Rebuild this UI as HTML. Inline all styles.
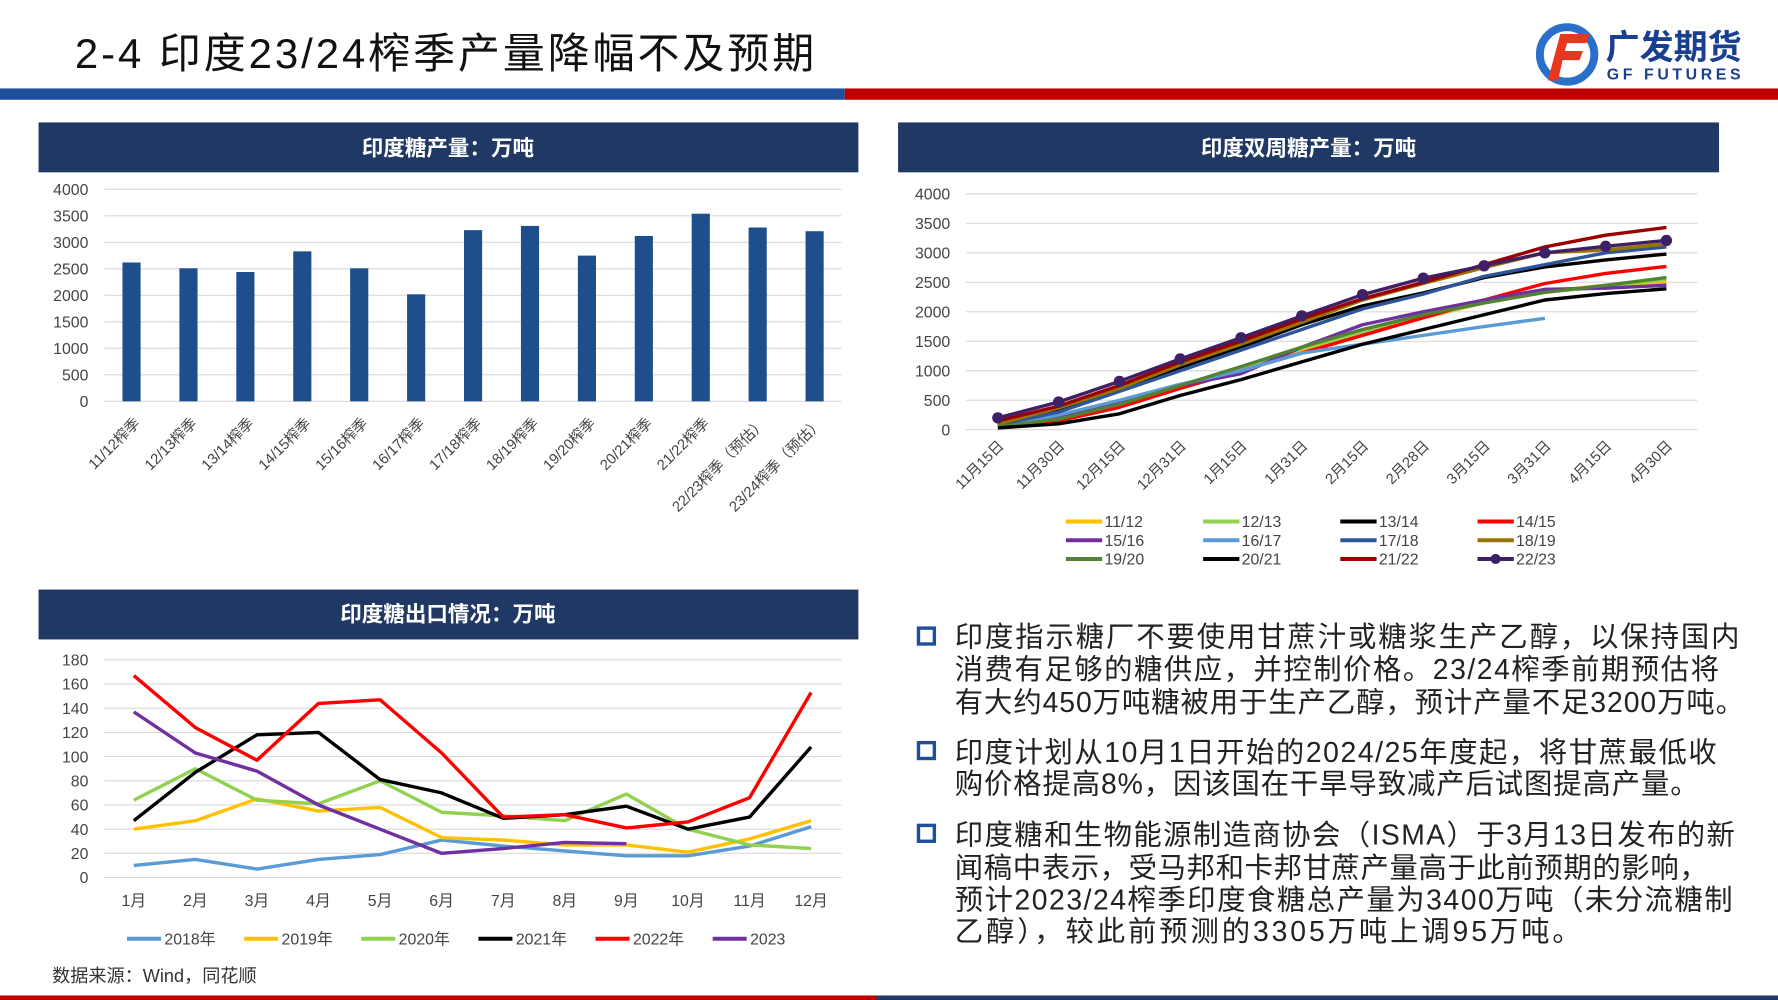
<!DOCTYPE html>
<html><head><meta charset="utf-8"><style>
html,body{margin:0;padding:0;background:#fff;width:1778px;height:1000px;overflow:hidden}
svg{display:block}
text{font-family:"Liberation Sans","Noto Sans CJK SC",sans-serif}
</style></head><body>
<svg id="s" width="1778" height="1000" viewBox="0 0 1568 882" preserveAspectRatio="none" xmlns="http://www.w3.org/2000/svg">
<text x="66" y="60" font-size="37" fill="#111" textLength="652">2-4 印度23/24榨季产量降幅不及预期</text>
<rect x="0" y="78" width="745" height="10" fill="#1f4e9b"/>
<rect x="745" y="78" width="823" height="10" fill="#c00000"/>
<rect x="1350" y="0" width="200" height="77" fill="#fff"/>
<circle cx="1382" cy="48" r="24" fill="none" stroke="#2a6fc9" stroke-width="7"/>
<path d="M1376 30 h26 l-3 8 h-17 l-2 7 h16 l-3 8 h-15 l-4 18 h-9 z" fill="#e8361f"/>
<text x="1416" y="52" font-size="30" font-weight="bold" fill="#1a3f8f">广发期货</text>
<text x="1417" y="70" font-size="14" font-weight="bold" fill="#1a3f8f" textLength="118">GF FUTURES</text>
<rect x="0" y="878" width="773" height="4" fill="#c00000"/>
<rect x="773" y="878" width="795" height="4" fill="#1f3864"/>

<rect x="34" y="108" width="723" height="44" fill="#1f3864"/>
<text x="395" y="137" font-size="19" font-weight="bold" fill="#fff" text-anchor="middle">印度糖产量：万吨</text>
<rect x="792" y="108" width="724" height="44" fill="#1f3864"/>
<text x="1154" y="137" font-size="19" font-weight="bold" fill="#fff" text-anchor="middle">印度双周糖产量：万吨</text>
<rect x="34" y="520" width="723" height="44" fill="#1f3864"/>
<text x="395" y="548" font-size="19" font-weight="bold" fill="#fff" text-anchor="middle">印度糖出口情况：万吨</text>
<g id="g"></g>
<text x="46" y="866" font-size="16" fill="#333">数据来源：Wind，同花顺</text>
<g fill="#222" font-size="25">
<text x="842" y="570" textLength="692">印度指示糖厂不要使用甘蔗汁或糖浆生产乙醇，以保持国内</text>
<text x="842" y="599" textLength="674">消费有足够的糖供应，并控制价格。23/24榨季前期预估将</text>
<text x="842" y="628" textLength="696">有大约450万吨糖被用于生产乙醇，预计产量不足3200万吨。</text>
<text x="842" y="672" textLength="672">印度计划从10月1日开始的2024/25年度起，将甘蔗最低收</text>
<text x="842" y="700" textLength="656">购价格提高8%，因该国在干旱导致减产后试图提高产量。</text>
<text x="842" y="745" textLength="688">印度糖和生物能源制造商协会（ISMA）于3月13日发布的新</text>
<text x="842" y="774" textLength="664">闻稿中表示，受马邦和卡邦甘蔗产量高于此前预期的影响，</text>
<text x="842" y="802" textLength="686">预计2023/24榨季印度食糖总产量为3400万吨（未分流糖制</text>
<text x="842" y="830" textLength="552">乙醇），较此前预测的3305万吨上调95万吨。</text>
</g>
<g fill="none" stroke="#1f4e9b" stroke-width="3">
<rect x="810" y="554" width="14" height="14"/><rect x="810" y="655" width="14" height="14"/><rect x="810" y="728" width="14" height="14"/>
</g>
</svg>
<script>
var g=document.getElementById('g'),h='';
function T(x,y,s,sz,a,c,rot){h+='<text x="'+x+'" y="'+y+'" font-size="'+sz+'" fill="'+(c||'#444')+'" text-anchor="'+(a||'start')+'"'+(rot?' transform="rotate('+rot+' '+x+' '+y+')"':'')+'>'+s+'</text>';}
function L(x1,y1,x2,y2,c,w){h+='<line x1="'+x1+'" y1="'+y1+'" x2="'+x2+'" y2="'+y2+'" stroke="'+c+'" stroke-width="'+w+'"/>';}
var y0=354,y1=167;
for(var i=0;i<=8;i++){var y=y0-(y0-y1)*i/8;L(92,y,742,y,'#d9d9d9',1);T(78,y+5,i*500,14,'end');}
var v=[2620,2510,2440,2830,2510,2020,3230,3310,2750,3120,3540,3280,3210];
var lb=['11/12榨季','12/13榨季','13/14榨季','14/15榨季','15/16榨季','16/17榨季','17/18榨季','18/19榨季','19/20榨季','20/21榨季','21/22榨季','22/23榨季（预估）','23/24榨季（预估）'];
v.forEach(function(d,i){var x=116+50.2*i,hh=d/4000*(y0-y1);h+='<rect x="'+(x-8)+'" y="'+(y0-hh)+'" width="16" height="'+hh+'" fill="#1f4e8c"/>';T(x+8,374,lb[i],13,'end','#444',-45);});
y0=379;y1=171;
for(i=0;i<=8;i++){y=y0-(y0-y1)*i/8;L(852,y,1497,y,'#d9d9d9',1);T(838,y+5,i*500,14,'end');}
var xl=['11月15日','11月30日','12月15日','12月31日','1月15日','1月31日','2月15日','2月28日','3月15日','3月31日','4月15日','4月30日'];
xl.forEach(function(s,i){T(880+53.6*i+6,394,s,13,'end','#444',-45);});
var S=[['11/12','#ffc000',[50,200,450,750,1050,1350,1650,1900,2150,2350,2450,2500]],
['12/13','#92d050',[50,180,430,750,1050,1380,1650,1920,2150,2330,2430,2550]],
['13/14','#000',[100,350,700,1050,1400,1780,2100,2320,2580,2760,2880,2980]],
['14/15','#ff0000',[50,150,380,700,1000,1300,1600,1900,2200,2480,2650,2770]],
['15/16','#7030a0',[60,200,450,750,950,1400,1780,2000,2200,2380,2400,2450]],
['16/17','#5b9bd5',[60,250,500,770,1000,1300,1450,1600,1750,1890]],
['17/18','#2e5597',[80,300,650,1000,1350,1700,2050,2300,2600,2800,3000,3100]],
['18/19','#997300',[100,370,700,1100,1450,1820,2200,2480,2750,3000,3050,3150]],
['19/20','#548235',[50,180,430,750,1070,1400,1700,1950,2150,2330,2450,2580]],
['20/21','#000',[30,100,270,580,850,1150,1450,1700,1950,2200,2310,2390]],
['21/22','#9b0000',[150,400,750,1150,1500,1880,2220,2500,2800,3100,3300,3430]],
['22/23','#3f1f66',[200,470,820,1200,1560,1930,2290,2570,2780,3000,3110,3210]]];
S.forEach(function(s,k){var p=s[2].map(function(d,i){return (880+53.6*i)+','+(y0-d/4000*(y0-y1));}).join(' ');
h+='<polyline points="'+p+'" fill="none" stroke="'+s[1]+'" stroke-width="3" stroke-linejoin="round"/>';
if(k==11)s[2].forEach(function(d,i){h+='<circle cx="'+(880+53.6*i)+'" cy="'+(y0-d/4000*(y0-y1))+'" r="5" fill="'+s[1]+'"/>';});
var lx=940+121*(k%4),ly=460+16.5*Math.floor(k/4);L(lx,ly,lx+32,ly,s[1],3.5);if(k==11)h+='<circle cx="'+(lx+16)+'" cy="'+ly+'" r="4.5" fill="'+s[1]+'"/>';T(lx+34,ly+5,s[0],14,'start','#444');});
y0=774;y1=582;
for(i=0;i<=9;i++){y=y0-(y0-y1)*i/9;L(92,y,742,y,'#d9d9d9',1);T(78,y+5,i*20,14,'end');}
for(i=0;i<12;i++)T(118+54.3*i,799,(i+1)+'月',14,'middle');
var E=[['2018年','#5b9bd5',[10,15,7,15,19,31,26,22,18,18,26,42]],
['2019年','#ffc000',[40,47,65,55,58,33,31,27,27,21,32,47]],
['2020年','#92d050',[64,90,64,61,80,54,51,47,69,40,27,24]],
['2021年','#000',[47,87,118,120,81,70,49,52,59,40,50,108]],
['2022年','#ff0000',[167,124,97,144,147,103,50,52,41,46,66,153]],
['2023','#7030a0',[137,103,88,60,40,20,24,29,28]]];
E.forEach(function(s,k){var p=s[2].map(function(d,i){return (118+54.3*i)+','+(y0-d/180*(y0-y1));}).join(' ');
h+='<polyline points="'+p+'" fill="none" stroke="'+s[1]+'" stroke-width="3" stroke-linejoin="round"/>';
var lx=112+103.3*k;L(lx,828,lx+30,828,s[1],3.5);T(lx+33,833,s[0],14,'start','#444');});
g.innerHTML=h;
</script>
</body></html>
